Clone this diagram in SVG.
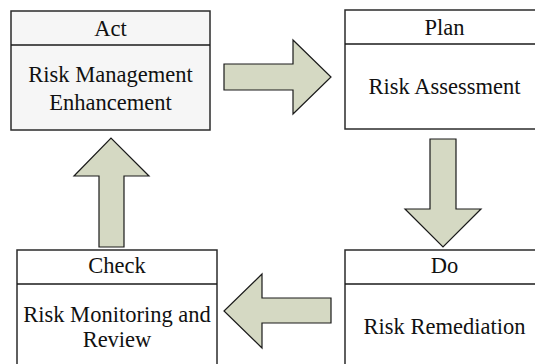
<svg xmlns="http://www.w3.org/2000/svg" width="535" height="364" viewBox="0 0 535 364">
  <style>
    .box { fill: #ffffff; stroke: #2b2b2b; stroke-width: 1.5; }
    .box.act { fill: #f6f6f6; }
    .rule { stroke: #1a1a1a; stroke-width: 1.3; }
    .arrow { fill: #d5d9c3; stroke: #1a1a1a; stroke-width: 1.2; stroke-linejoin: miter; }
    text { font-family: "Liberation Serif", "Times New Roman", serif; font-size: 22.5px; fill: #111; text-anchor: middle; }
  </style>

  <!-- PDCA stages -->
  <g id="act">
    <rect class="box act" x="11" y="11" width="199" height="119"/>
    <line class="rule" x1="11" y1="45" x2="210" y2="45"/>
    <text x="110.5" y="36">Act</text>
    <text x="110.5" y="82">Risk Management</text>
    <text x="110.5" y="110">Enhancement</text>
  </g>

  <g id="plan">
    <rect class="box" x="345" y="10" width="199" height="119"/>
    <line class="rule" x1="345" y1="44" x2="544" y2="44"/>
    <text x="444.5" y="35">Plan</text>
    <text x="444.5" y="94">Risk Assessment</text>
  </g>

  <g id="do">
    <rect class="box" x="345" y="250" width="199" height="125"/>
    <line class="rule" x1="345" y1="284" x2="544" y2="284"/>
    <text x="444.5" y="273">Do</text>
    <text x="444.5" y="334">Risk Remediation</text>
  </g>

  <g id="check">
    <rect class="box" x="17" y="250" width="200" height="125"/>
    <line class="rule" x1="17" y1="284" x2="217" y2="284"/>
    <text x="117" y="273">Check</text>
    <text x="117" y="322">Risk Monitoring and</text>
    <text x="117" y="347">Review</text>
  </g>

  <!-- block arrows between stages -->
  <g id="connectors">
    <!-- Act to Plan -->
    <polygon class="arrow" points="224,64 293,64 293,40 331,77 293,114 293,90 224,90"/>
    <!-- Plan to Do -->
    <polygon class="arrow" points="430,139 456,139 456,209 481,209 443,247 405,209 430,209"/>
    <!-- Do to Check -->
    <polygon class="arrow" points="331,298 262,298 262,274 224,311 262,348 262,323 331,323"/>
    <!-- Check to Act -->
    <polygon class="arrow" points="99,247 124,247 124,176 149,176 111,138 74,176 99,176"/>
  </g>
</svg>
